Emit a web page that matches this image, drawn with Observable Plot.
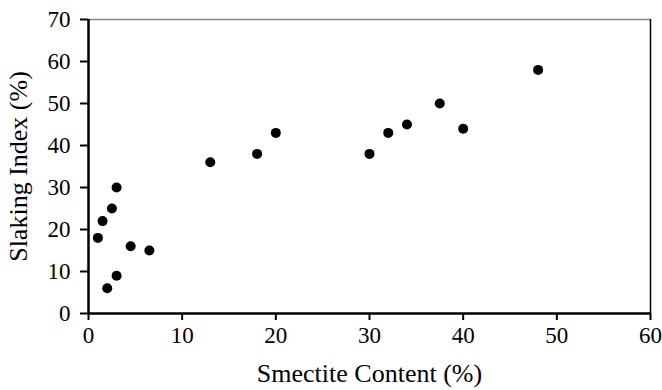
<!DOCTYPE html>
<html>
<head>
<meta charset="utf-8">
<script src="https://cdn.jsdelivr.net/npm/d3@7"></script>
<script src="https://cdn.jsdelivr.net/npm/@observablehq/plot@0.6"></script>
<style>
  html, body { margin: 0; padding: 0; background: #fff; }
</style>
</head>
<body>
<div id="chart"></div>
<script>
const smectite = [1, 1.5, 2.5, 3, 4.5, 6.5, 3, 2, 13, 18, 20, 30, 32, 34, 37.5, 40, 48];
const slaking  = [18, 22, 25, 30, 16, 15, 9, 6, 36, 38, 43, 38, 43, 45, 50, 44, 58];
const xTicks = [0, 10, 20, 30, 40, 50, 60];
const yTicks = [0, 10, 20, 30, 40, 50, 60, 70];
const xTitle = "Smectite Content (%)";
const yTitle = "Slaking Index (%)";

const data = smectite.map((x, i) => ({x, y: slaking[i]}));

const chart = Plot.plot({
  width: 662,
  height: 390,
  marginLeft: 88,
  marginRight: 12,
  marginTop: 19,
  marginBottom: 77,
  style: {fontFamily: "'Liberation Serif', 'Times New Roman', serif", fontSize: "23px", color: "#000", background: "#fff"},
  x: {domain: [0, 60], ticks: xTicks},
  y: {domain: [0, 70], ticks: yTicks},
  marks: [
    Plot.ruleY([70], {stroke: "#888", strokeWidth: 1.5}),
    Plot.ruleX([60], {stroke: "#000", strokeWidth: 1.5}),
    Plot.axisX({ticks: xTicks, tickSize: 7, tickPadding: 6, strokeWidth: 2, fontSize: 23, label: null}),
    Plot.axisY({ticks: yTicks, tickSize: 8, tickPadding: 10, strokeWidth: 2, fontSize: 23, label: null}),
    Plot.text([xTitle], {text: d => d, frameAnchor: "bottom", dy: 60, textAnchor: "middle", lineAnchor: "middle", fontSize: 26, fill: "#000"}),
    Plot.text([yTitle], {text: d => d, frameAnchor: "left", dx: -70, rotate: -90, textAnchor: "middle", lineAnchor: "middle", fontSize: 26, fill: "#000"}),
    Plot.ruleX([0], {stroke: "#000", strokeWidth: 2.5}),
    Plot.ruleY([0], {stroke: "#000", strokeWidth: 2.5}),
    Plot.dot(data, {x: "x", y: "y", r: 5, fill: "#000", stroke: "none"})
  ]
});
document.getElementById("chart").appendChild(chart);
</script>
</body>
</html>
